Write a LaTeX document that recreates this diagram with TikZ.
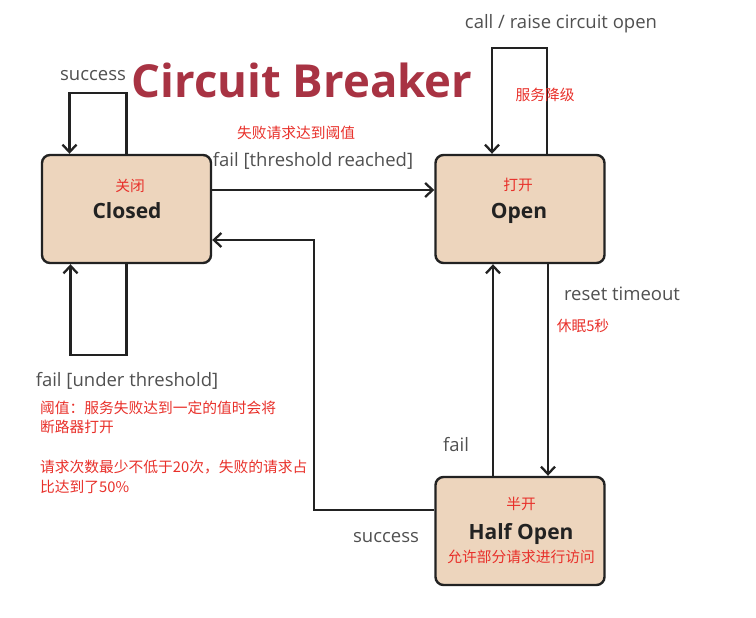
\documentclass[tikz,border=0pt]{standalone}
\usepackage{fontspec}
\setmainfont{Open Sans}
\newfontfamily\cjk{Noto Sans CJK SC}
\usetikzlibrary{arrows.meta}
\definecolor{boxfill}{HTML}{EDD5BD}
\definecolor{titlered}{HTML}{A83343}
\definecolor{notered}{HTML}{E8302A}
\definecolor{labelgray}{HTML}{505050}
\definecolor{ink}{HTML}{222222}
\begin{document}
\begin{tikzpicture}[x=1pt,y=-1pt,
 state/.style={draw=ink, line width=2.4pt, fill=boxfill, rounded corners=8pt, minimum width=169pt, minimum height=108pt, inner sep=0pt},
 conn/.style={line width=2.3pt, draw=ink, -{Straight Barb[length=7.5pt,width=14pt]}},
 lbl/.style={text=labelgray, font=\fontsize{18.5}{22}\selectfont, inner sep=0pt},
 note/.style={text=notered, font=\cjk\fontsize{14.75}{20}\selectfont, inner sep=0pt},
 statename/.style={text=ink, font=\bfseries\fontsize{21}{25}\selectfont, inner sep=0pt},
]
\useasboundingbox (0,0) rectangle (756,618);
% states
\node[state] (closed) at (126.5,209) {};
\node[state] (open) at (520,209) {};
\node[state] (half) at (520,531) {};
% texts in boxes
\node[note] (closedcn) at (130,186) {关闭};
\node[statename] (closedtx) at (127,211) {Closed};
\node[note] (opencn) at (518,185) {打开};
\node[statename] (opentx) at (519,213.5) {Open};
\node[note] (halfcn) at (521,504) {半开};
\node[statename] (halftx) at (521,533.5) {Half Open};
\node[note] (halfnote) at (521,557) {允许部分请求进行访问};
% title
\node[text=titlered, font=\bfseries\fontsize{45.5}{52}\selectfont, inner sep=0pt] (title) at (302,80) {Circuit Breaker};
% connectors
\draw[conn] (closed.north) -- ++(0,-61) -| ([xshift=-57pt]closed.north);
\draw[conn] (closed.south) -- ++(0,91) -| ([xshift=-56pt]closed.south);
\draw[conn] ([yshift=19pt]closed.east) -- ([yshift=19pt]open.west);
\draw[conn] ([yshift=21pt]half.west) -- ++(-120,0) |- ([yshift=-31pt]closed.east);
\draw[conn] ([xshift=27pt]open.north) -- ++(0,-106) -| ([xshift=-28pt]open.north);
\draw[conn] ([xshift=28pt]open.south) -- ([xshift=28pt]half.north);
\draw[conn] ([xshift=-27pt]half.north) -- ([xshift=-27pt]open.south);
% labels
\node[lbl] (l1) at (93,76) {success};
\node[lbl] (l2) at (313,161) {fail [threshold reached]};
\node[note] (n2) at (296,133) {失败请求达到阈值};
\node[lbl] (l3) at (561,24) {call / raise circuit open};
\node[note] (n3) at (545,95) {服务降级};
\node[lbl] (l4) at (622,294) {reset timeout};
\node[note] (n4) at (583,326) {休眠5秒};
\node[lbl] (l5) at (456,445) {fail};
\node[lbl] (l6) at (386,538) {success};
\node[lbl] (l7) at (127,381) {fail [under threshold]};
\node[note, anchor=west] (n7a) at (40,408) {阈值：服务失败达到一定的值时会将};
\node[note, anchor=west] (n7b) at (40,427) {断路器打开};
\node[note, anchor=west] (n8a) at (40,467) {请求次数最少不低于20次，失败的请求占};
\node[note, anchor=west] (n8b) at (40,487) {比达到了50\%};
\end{tikzpicture}
\end{document}
